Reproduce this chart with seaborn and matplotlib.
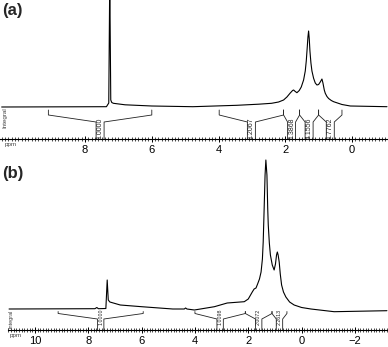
import numpy as np
import pandas as pd
import matplotlib
matplotlib.use("Agg")
import matplotlib.pyplot as plt
import seaborn as sns
from matplotlib.ticker import MultipleLocator, FixedLocator

sns.set_theme(style="white")
plt.rcParams['font.family'] = ['Liberation Sans', 'DejaVu Sans']

# --- spectrum (a): chemical shift (ppm) vs intensity ---
ppm_a = [10.50, 7.36, 7.29, 7.26, 7.23, 7.20, 7.15, 6.80, 6.00, 4.77, 3.45, 2.80,
         2.41, 2.20, 2.05, 1.95, 1.85, 1.78, 1.75, 1.70, 1.65, 1.58, 1.52, 1.45,
         1.40, 1.37, 1.34, 1.32, 1.30, 1.28, 1.26, 1.23, 1.20, 1.15, 1.10, 1.05,
         1.00, 0.95, 0.90, 0.87, 0.83, 0.80, 0.75, 0.70, 0.62, 0.55, 0.30, 0.05,
         -1.05]
int_a = [0.0, 0.3, 4.0, 130.0, 7.0, 4.5, 3.7, 2.2, 1.0, 0.3, 1.7, 2.8,
         3.7, 5.0, 7.0, 10.0, 14.0, 16.5, 17.0, 15.5, 14.3, 16.5, 20.0, 27.0,
         36.0, 46.0, 60.0, 70.0, 76.0, 68.0, 56.0, 44.0, 36.0, 28.7, 24.0, 22.0,
         22.5, 25.0, 28.0, 24.0, 17.0, 13.7, 10.5, 8.5, 6.5, 5.3, 2.5, 1.0,
         0.3]

# --- spectrum (b) ---
ppm_b = [10.97, 7.75, 7.68, 7.62, 7.34, 7.29, 7.25, 7.19, 6.80, 6.00, 4.83, 4.40,
         4.35, 4.30, 4.02, 3.27, 2.79, 2.15, 2.00, 1.85, 1.78, 1.71, 1.65, 1.58,
         1.52, 1.47, 1.44, 1.41, 1.37, 1.34, 1.30, 1.27, 1.25, 1.21, 1.17, 1.10,
         1.03, 0.98, 0.94, 0.91, 0.88, 0.84, 0.80, 0.75, 0.68, 0.59, 0.45, 0.28,
         0.00, -0.35, -1.22, -3.20]
int_b = [0.0, 0.3, 1.5, 0.3, 0.5, 29.0, 9.0, 7.0, 4.0, 2.3, 0.0, 0.0,
         1.0, 0.0, -1.0, 2.3, 6.0, 7.3, 10.0, 17.0, 20.0, 21.0, 25.0, 30.0,
         37.0, 50.0, 67.0, 95.0, 134.0, 149.0, 134.0, 100.0, 84.0, 66.0, 54.0, 44.0,
         39.0, 45.0, 54.0, 57.0, 54.0, 47.0, 35.0, 24.0, 17.0, 12.0, 7.0, 4.0,
         1.5, 0.0, -2.7, -1.7]

# --- integral regions (start ppm, end ppm) and their values ---
int_start_a = [9.10, 3.98, 2.05, 1.57, 1.00]
int_end_a = [6.00, 2.05, 1.57, 1.00, 0.30]
int_label_a = ["1.0000", "1.2067", "1.3868", "4.1556", "1.7762"]

int_start_b = [9.13, 4.00, 2.11, 1.11]
int_end_b = [5.94, 2.11, 1.11, 0.55]
int_label_b = ["1.0000", "1.0098", "2.0072", "2.2613"]

W, H = 388, 347
fig = plt.figure(figsize=(W / 100, H / 100), dpi=100)


def draw_panel(rect, xlim, ylim, ppm, inten, starts, ends, labels, geo, ticks, txt_size):
    ax = fig.add_axes(rect)
    df = pd.DataFrame({"ppm": ppm, "intensity": inten})
    sns.lineplot(data=df, x="ppm", y="intensity", ax=ax, color="black",
                 linewidth=0.8, estimator=None, sort=False)
    ax.set_xlim(*xlim)
    ax.set_ylim(*ylim)

    # integral brackets (Bruker style)
    tick_top, tick_bot, box_top, text_y, half_px = geo
    ax_w_px = rect[2] * W
    px_per_ppm = ax_w_px / (xlim[0] - xlim[1])
    hw = half_px / px_per_ppm
    y0 = ylim[0]
    for s, e, lab in zip(starts, ends, labels):
        c = (s + e) / 2
        ax.plot([s, s, c + hw, c + hw], [tick_top, tick_bot, box_top, y0],
                color="#222222", lw=0.6, clip_on=False)
        ax.plot([c - hw, c - hw, e, e], [y0, box_top, tick_bot, tick_top],
                color="#222222", lw=0.6, clip_on=False)
        ax.text(c, text_y, lab, rotation=90, ha="center", va="center",
                fontsize=txt_size, color="#222222")

    sns.despine(ax=ax, left=True, top=True, right=True)
    ax.spines["bottom"].set_linewidth(0.8)
    ax.spines["bottom"].set_color("black")
    ax.set_yticks([])
    ax.xaxis.set_major_locator(FixedLocator(ticks))
    ax.xaxis.set_minor_locator(MultipleLocator(0.1))
    ax.tick_params(axis="x", which="major", direction="inout", length=5, width=0.7,
                   labelsize=8, pad=1.5, bottom=True, colors="black")
    ax.tick_params(axis="x", which="minor", direction="inout", length=3, width=0.5,
                   bottom=True, colors="black")
    ax.set_xticklabels(["\u2212" + str(-t) if t < 0 else str(t) for t in ticks])
    ax.set_xlabel("")
    ax.set_ylabel("")
    ax.grid(False)
    ax.patch.set_alpha(0)
    return ax


# panel (a)
ax_a = draw_panel([0.0, 1 - 139 / H, 1.0, 139 / H], (10.55, -1.08), (-32, 107),
                  ppm_a, int_a, int_start_a, int_end_a, int_label_a,
                  (-3, -8, -15, -21, 4.0), [8, 6, 4, 2, 0], 5.0)
ax_a.text(0.012, -0.025, "ppm", transform=ax_a.transAxes, fontsize=4.5,
          ha="left", va="top", color="#444444")
ax_a.text(0.013, 0.08, "Integral", transform=ax_a.transAxes, fontsize=4.5,
          rotation=90, ha="center", va="bottom", color="#444444")

# panel (b)
ax_b = draw_panel([8 / W, 1 - 330 / H, 380 / W, 175 / H], (11.01, -3.24), (-21, 154),
                  ppm_b, int_b, int_start_b, int_end_b, int_label_b,
                  (-2.5, -4.5, -10, -8, 3.2), [10, 8, 6, 4, 2, 0, -2], 3.8)
ax_b.text(0.005, -0.015, "ppm", transform=ax_b.transAxes, fontsize=4.5,
          ha="left", va="top", color="#444444")
ax_b.text(0.008, 0.01, "Integral", transform=ax_b.transAxes, fontsize=4.0,
          rotation=90, ha="center", va="bottom", color="#444444")

fig.text(2 / W, 1 - 3 / H, "(a)", fontsize=12, fontweight="bold", ha="left", va="top")
fig.text(2 / W, 1 - 166 / H, "(b)", fontsize=12, fontweight="bold", ha="left", va="top")

fig.savefig("out.png", dpi=100)
